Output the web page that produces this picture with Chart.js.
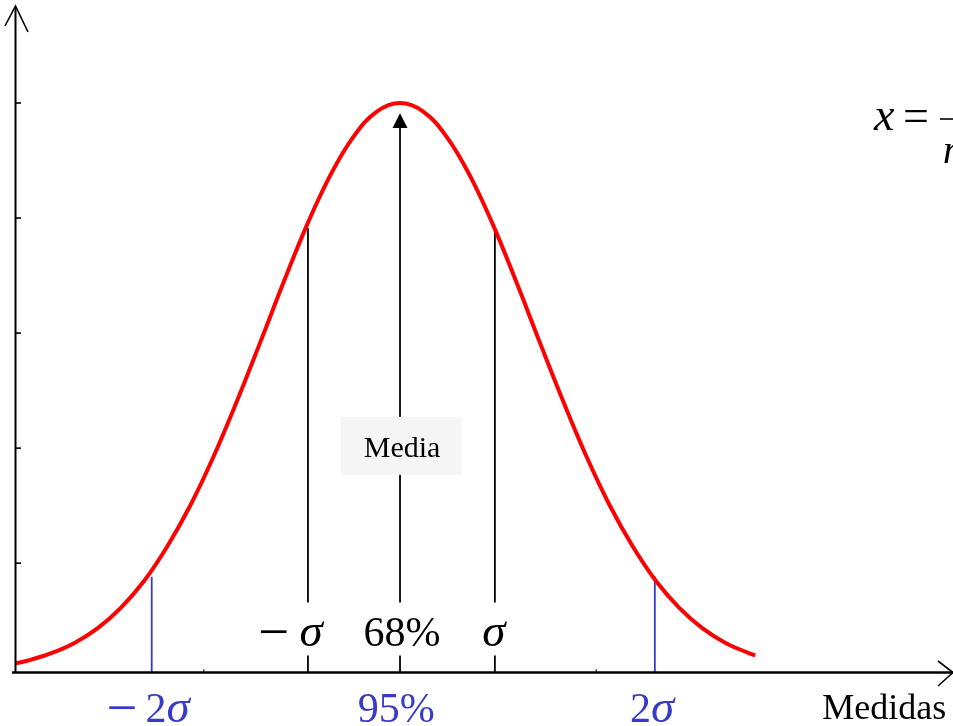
<!DOCTYPE html>
<html>
<head>
<meta charset="utf-8">
<script src="https://cdn.jsdelivr.net/npm/chart.js@4"></script>
<style>
  body { margin: 0; background: #fff; }
  canvas { display: block; }
</style>
</head>
<body>
<canvas id="grafica" width="953" height="726"></canvas>
<script>
// curva normal (x en unidades de sigma, y relativo al máximo)
const medidas = [-4.14, -4.0, -3.75, -3.5, -3.25, -3.0, -2.75, -2.5, -2.25, -2.0, -1.75, -1.5, -1.25, -1.0, -0.75, -0.5, -0.25,
  0, 0.25, 0.5, 0.75, 1.0, 1.25, 1.5, 1.75, 2.0, 2.25, 2.5, 2.75, 3.0, 3.25, 3.5, 3.75, 3.82];
const frecuencia = [0.016, 0.021, 0.034, 0.052, 0.078, 0.114, 0.161, 0.222, 0.295, 0.381, 0.478, 0.581, 0.686, 0.786, 0.873, 0.941, 0.985,
  1.0, 0.985, 0.941, 0.873, 0.786, 0.686, 0.581, 0.478, 0.381, 0.295, 0.222, 0.161, 0.114, 0.078, 0.052, 0.034, 0.030];

const posSigma = [-0.99, 0, 1.02];
const altoSigma = [0.78, 0.956, 0.78];
const pos2Sigma = [-2.67, 2.74];
const alto2Sigma = [0.168, 0.168];

const marcasY = [0.192, 0.394, 0.596, 0.798, 1.0];
const marcasX = [-2.11, 2.11];

const etiquetasArriba = ["\u2212 \u03c3", "68%", "\u03c3"];
const posArriba = [-1.18, 0.02, 1.01];
const etiquetasAbajo = ["\u2212\u20092\u03c3", "95%", "2\u03c3"];
const posAbajo = [-2.71, -0.04, 2.71];

const linea = (x, alto, color) => ({
  data: [{ x: x, y: 0 }, { x: x, y: alto }],
  borderColor: color,
  borderWidth: 1.8,
  pointRadius: 0,
  tension: 0
});

const datasets = [{
  data: medidas.map((m, i) => ({ x: m, y: frecuencia[i] })),
  borderColor: "#ff0000",
  borderWidth: 4,
  pointRadius: 0,
  tension: 0.4
}];
posSigma.forEach((p, i) => datasets.push(linea(p, altoSigma[i], "#000")));
pos2Sigma.forEach((p, i) => datasets.push(linea(p, alto2Sigma[i], "#3a3ac8")));

// texto con la sigma en cursiva y el signo menos algo más ancho
function textoMixto(ctx, texto, cx, base, tam) {
  const normal = tam + 'px "Liberation Serif"';
  const cursiva = 'italic ' + Math.round(tam * 1.12) + 'px "Liberation Serif"';
  const menos = Math.round(tam * 1.3) + 'px "Liberation Serif"';
  const partes = [...texto].map(c => ({
    c,
    f: c === "\u03c3" ? cursiva : (c === "\u2212" ? menos : normal),
    dy: c === "\u2212" ? 4 : 0
  }));
  let total = 0;
  partes.forEach(p => { ctx.font = p.f; p.w = ctx.measureText(p.c).width; total += p.w; });
  let px = cx - total / 2;
  ctx.textAlign = "left";
  partes.forEach(p => { ctx.font = p.f; ctx.fillText(p.c, px, base + p.dy); px += p.w; });
  return total;
}

const decorado = {
  id: "decorado",
  afterDatasetsDraw(chart) {
    const { ctx, chartArea: a, scales: { x, y } } = chart;
    const y0 = y.getPixelForValue(0);
    ctx.save();

    // punta de flecha de la media
    const xm = x.getPixelForValue(0);
    ctx.fillStyle = "#000";
    ctx.beginPath();
    ctx.moveTo(xm, y.getPixelForValue(0.982));
    ctx.lineTo(xm - 7.5, y.getPixelForValue(0.956));
    ctx.lineTo(xm + 7.5, y.getPixelForValue(0.956));
    ctx.closePath();
    ctx.fill();

    // caja "Media"
    const ym = y.getPixelForValue(0.398);
    ctx.fillStyle = "#f5f5f5";
    ctx.fillRect(xm - 59, ym - 29, 121, 58);
    ctx.fillStyle = "#000";
    ctx.font = '30px "Liberation Serif"';
    ctx.textAlign = "center";
    ctx.fillText("Media", xm + 2, ym + 11);

    // etiquetas sobre el eje
    etiquetasArriba.forEach((t, i) => {
      const px = x.getPixelForValue(posArriba[i]);
      ctx.font = '42px "Liberation Serif"';
      const w = ctx.measureText(t).width + 8;
      ctx.fillStyle = "#fff";
      ctx.fillRect(px - w / 2 - 4, y0 - 70, w + 8, 53);
      ctx.fillStyle = "#000";
      textoMixto(ctx, t, px, y0 - 27, 42);
    });

    // etiquetas bajo el eje
    ctx.fillStyle = "#3a3ac8";
    etiquetasAbajo.forEach((t, i) => {
      textoMixto(ctx, t, x.getPixelForValue(posAbajo[i]), y0 + 49, 42);
    });

    ctx.fillStyle = "#000";
    ctx.font = '36px "Liberation Serif"';
    ctx.textAlign = "left";
    ctx.fillText("Medidas", x.getPixelForValue(4.54), y0 + 46);

    // fórmula (cortada en el borde)
    ctx.font = 'italic 46px "Liberation Serif"';
    ctx.fillText("x", 874, 130);
    ctx.font = '46px "Liberation Serif"';
    ctx.fillText("=", 903, 131);
    ctx.font = 'italic 40px "Liberation Serif"';
    ctx.fillText("n", 943, 163);
    ctx.lineWidth = 1.6;
    ctx.beginPath();
    ctx.moveTo(940, 119);
    ctx.lineTo(960, 119);
    ctx.stroke();

    // ejes
    ctx.strokeStyle = "#000";
    ctx.lineWidth = 2;
    ctx.beginPath();
    ctx.moveTo(a.left + 0.5, y0);
    ctx.lineTo(a.left + 0.5, a.top + 4);
    ctx.stroke();
    ctx.lineWidth = 2.5;
    ctx.beginPath();
    ctx.moveTo(a.left - 3, y0);
    ctx.lineTo(a.right, y0);
    ctx.stroke();

    ctx.lineWidth = 1.6;
    ctx.beginPath();
    ctx.moveTo(a.left - 10, a.top + 23);
    ctx.lineTo(a.left + 0.5, a.top + 3);
    ctx.lineTo(a.left + 13, a.top + 29);
    ctx.stroke();
    ctx.beginPath();
    ctx.moveTo(a.right - 15, y0 - 11.5);
    ctx.lineTo(a.right, y0);
    ctx.lineTo(a.right - 15, y0 + 13.5);
    ctx.stroke();

    ctx.lineWidth = 1.6;
    marcasY.forEach(v => {
      const py = y.getPixelForValue(v);
      ctx.beginPath();
      ctx.moveTo(a.left, py);
      ctx.lineTo(a.left + 6, py);
      ctx.stroke();
    });
    ctx.lineWidth = 1.2;
    marcasX.forEach(v => {
      const px = x.getPixelForValue(v);
      ctx.beginPath();
      ctx.moveTo(px, y0);
      ctx.lineTo(px, y0 - 3);
      ctx.stroke();
    });

    ctx.restore();
  }
};

new Chart(document.getElementById("grafica").getContext("2d"), {
  type: "line",
  data: { datasets },
  options: {
    responsive: false,
    animation: false,
    devicePixelRatio: 1,
    layout: { padding: { left: 15, right: 0, top: 3, bottom: 53.5 } },
    plugins: { legend: { display: false }, tooltip: { enabled: false } },
    scales: {
      x: { type: "linear", min: -4.14, max: 5.946, display: false },
      y: { min: 0, max: 1.1756, display: false }
    }
  },
  plugins: [decorado]
});
</script>
</body>
</html>
